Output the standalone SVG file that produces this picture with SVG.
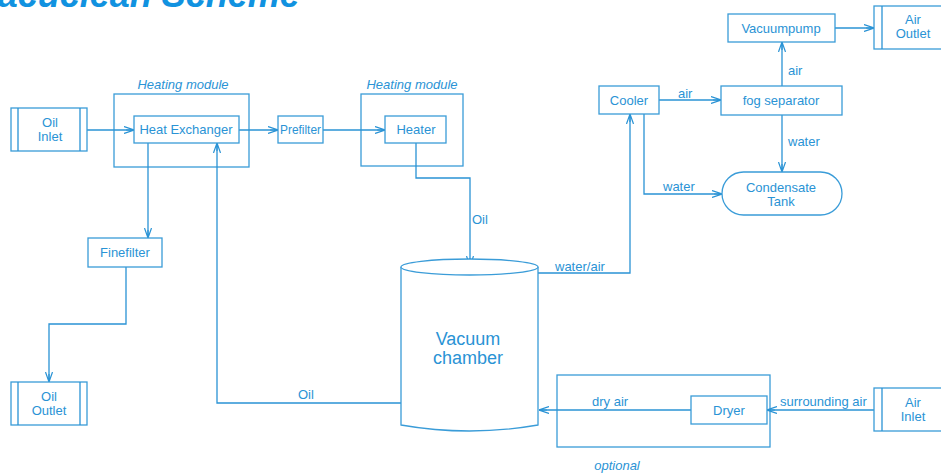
<svg xmlns="http://www.w3.org/2000/svg" width="941" height="475" viewBox="0 0 941 475">
<style>
text{font-family:"Liberation Sans",Arial,sans-serif;fill:#2a93d5;font-size:13px}
.c{text-anchor:middle}
.big{font-size:18px}
.it{font-style:italic}
.title{font-size:36px;font-weight:bold;font-style:italic;fill:#1192e0}
.b{fill:#fff;stroke:#3a9cd8;stroke-width:1.3}
.f{fill:none;stroke:#3a9cd8;stroke-width:1.3}
.ln{fill:none;stroke:#2a93d5;stroke-width:1.3;marker-end:url(#ah)}
.nl{fill:none;stroke:#2a93d5;stroke-width:1.3}
</style>
<defs>
<marker id="ah" viewBox="0 0 10 8" refX="10" refY="4" markerWidth="10" markerHeight="8" markerUnits="userSpaceOnUse" orient="auto">
<path d="M0,0.5 L10,4 L0,7.5 M2,4 L10,4" fill="none" stroke="#2a93d5" stroke-width="1.2"/>
</marker>
</defs>
<text class="title" x="-25" y="7">Vacuclean  Scheme</text>

<g id="heating-module-1"><rect class="f" x="114" y="94" width="135" height="73"/><text class="c it" x="183" y="89">Heating module</text></g>
<g id="heating-module-2"><rect class="f" x="361" y="94" width="102" height="72"/><text class="c it" x="412" y="89">Heating module</text></g>
<g id="optional"><rect class="f" x="557" y="375" width="213" height="72"/><text class="c it" x="617" y="470">optional</text></g>

<g id="connectors">
<path class="ln" d="M87,130 H134"/>
<path class="ln" d="M239,130 H278"/>
<path class="ln" d="M323,130 H385"/>
<path class="ln" d="M416,143 V178 H470 V266"/>
<path class="ln" d="M148,143 V238"/>
<path class="ln" d="M126,267 V324 H49 V382"/>
<path class="ln" d="M401,403 H217 V143"/>
<path class="ln" d="M538,273 H630 V114"/>
<path class="ln" d="M644,114 V194 H722"/>
<path class="ln" d="M659,100 H721"/>
<path class="ln" d="M782,86 V42"/>
<path class="ln" d="M835,28 H874"/>
<path class="ln" d="M782,115 V172"/>
<path class="ln" d="M691,410 H539"/>
<path class="ln" d="M874,410 H767"/>
<text x="472" y="224">Oil</text>
<text x="298" y="399">Oil</text>
<text x="555" y="271">water/air</text>
<text x="663" y="191">water</text>
<text x="678" y="98">air</text>
<text x="788" y="75">air</text>
<text x="788" y="146">water</text>
<text x="592" y="406">dry air</text>
<text x="780" y="406">surrounding air</text>
</g>

<g id="oil-inlet"><rect class="b" x="11" y="108" width="76" height="43"/><path class="nl" d="M18,108 V151 M80,108 V151"/><text class="c" x="50" y="127">Oil</text><text class="c" x="50" y="141">Inlet</text></g>
<g id="heat-exchanger"><rect class="b" x="134" y="116" width="105" height="27"/><text class="c" x="186" y="134">Heat Exchanger</text></g>
<g id="prefilter"><rect class="b" x="278" y="116" width="45" height="27"/><text class="c" x="300.5" y="134" textLength="41" lengthAdjust="spacingAndGlyphs">Prefilter</text></g>
<g id="heater"><rect class="b" x="385" y="116" width="61" height="27"/><text class="c" x="416" y="134">Heater</text></g>
<g id="finefilter"><rect class="b" x="88" y="238" width="74" height="29"/><text class="c" x="125" y="257">Finefilter</text></g>
<g id="oil-outlet"><rect class="b" x="11" y="382" width="76" height="43"/><path class="nl" d="M18,382 V425 M80,382 V425"/><text class="c" x="49" y="401">Oil</text><text class="c" x="49" y="415">Outlet</text></g>
<g id="vacuum-chamber">
<path class="b" d="M401,267 V425 Q469,437 538,425 V267"/>
<ellipse class="b" cx="469.5" cy="267" rx="68.5" ry="8"/>
<text class="c big" x="468" y="345">Vacuum</text><text class="c big" x="468" y="364">chamber</text></g>
<g id="cooler"><rect class="b" x="599" y="86" width="60" height="28"/><text class="c" x="629" y="105">Cooler</text></g>
<g id="fog-separator"><rect class="b" x="721" y="86" width="121" height="29"/><text class="c" x="781" y="105">fog separator</text></g>
<g id="vacuumpump"><rect class="b" x="728" y="14" width="107" height="28"/><text class="c" x="781" y="33">Vacuumpump</text></g>
<g id="air-outlet"><rect class="b" x="874" y="6" width="80" height="43"/><path class="nl" d="M882,6 V49"/><text class="c" x="913" y="24">Air</text><text class="c" x="913" y="38">Outlet</text></g>
<g id="condensate-tank"><rect class="b" x="722" y="172" width="120" height="43" rx="21.5" ry="21.5"/><text class="c" x="781" y="192">Condensate</text><text class="c" x="781" y="206">Tank</text></g>
<g id="dryer"><rect class="b" x="691" y="396" width="76" height="28"/><text class="c" x="729" y="415">Dryer</text></g>
<g id="air-inlet"><rect class="b" x="874" y="388" width="80" height="43"/><path class="nl" d="M882,388 V431"/><text class="c" x="913" y="407">Air</text><text class="c" x="913" y="421">Inlet</text></g>
</svg>
